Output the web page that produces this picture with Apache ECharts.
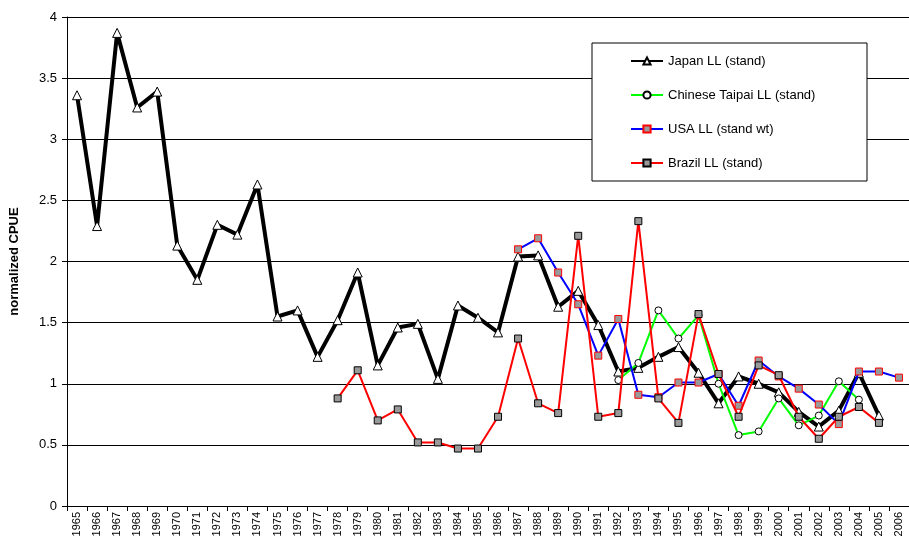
<!DOCTYPE html>
<html>
<head>
<meta charset="utf-8">
<script src="https://cdn.jsdelivr.net/npm/echarts@6/dist/echarts.min.js"></script>
<style>
html,body{margin:0;padding:0;background:#fff;}
#chart{width:909px;height:542px;}
</style>
</head>
<body>
<div id="chart"></div>
<script>
var years = ['1965','1966','1967','1968','1969','1970','1971','1972','1973','1974','1975','1976','1977','1978','1979','1980','1981','1982','1983','1984','1985','1986','1987','1988','1989','1990','1991','1992','1993','1994','1995','1996','1997','1998','1999','2000','2001','2002','2003','2004','2005','2006'];

var japan = [3.36,2.29,3.87,3.26,3.39,2.13,1.85,2.30,2.22,2.63,1.55,1.60,1.22,1.52,1.91,1.15,1.46,1.49,1.04,1.64,1.54,1.42,2.04,2.05,1.63,1.76,1.48,1.10,1.13,1.22,1.30,1.09,0.84,1.06,1.00,0.93,0.77,0.65,0.78,1.09,0.74,null];

var taipei = [null,null,null,null,null,null,null,null,null,null,null,null,null,null,null,null,null,null,null,null,null,null,null,null,null,null,null,1.03,1.17,1.60,1.37,1.56,1.00,0.58,0.61,0.88,0.66,0.74,1.02,0.87,null,null];

var usa = [null,null,null,null,null,null,null,null,null,null,null,null,null,null,null,null,null,null,null,null,null,null,2.10,2.19,1.91,1.65,1.23,1.53,0.91,0.89,1.01,1.01,1.08,0.82,1.19,1.06,0.96,0.83,0.67,1.10,1.10,1.05];

var brazil = [null,null,null,null,null,null,null,null,null,null,null,null,null,0.88,1.11,0.70,0.79,0.52,0.52,0.47,0.47,0.73,1.37,0.84,0.76,2.21,0.73,0.76,2.33,0.88,0.68,1.57,1.08,0.73,1.15,1.07,0.73,0.55,0.73,0.81,0.68,null];

var seriesNames = ['Japan LL (stand)','Chinese Taipai LL (stand)','USA LL (stand wt)','Brazil LL (stand)'];
var yTicks = {min:0, max:4, interval:0.5};

var font = 'Arial, "Liberation Sans", sans-serif';
var chart = echarts.init(document.getElementById('chart'), null, {renderer:'canvas'});
chart.setOption({
  animation:false,
  backgroundColor:'#fff',
  grid:{left:64, top:17, width:850, bottom:36, containLabel:false},
  legend:{
    left:592, top:43, orient:'vertical',
    backgroundColor:'#fff', borderColor:'#000', borderWidth:1,
    padding:[11,35,11,38],
    itemGap:20, itemWidth:32, itemHeight:9,
    textStyle:{fontFamily:font, fontSize:13, color:'#000', lineHeight:14, width:164},
    data:seriesNames
  },
  xAxis:{
    type:'category', data:years, boundaryGap:true,
    axisLine:{lineStyle:{color:'#000', width:1}},
    axisTick:{show:true, interval:0, length:5, lineStyle:{color:'#000'}},
    axisLabel:{interval:0, rotate:90, fontFamily:font, fontSize:11, color:'#000', margin:6},
    splitLine:{show:false}
  },
  yAxis:{
    type:'value', min:yTicks.min, max:yTicks.max, interval:yTicks.interval,
    name:'normalized CPUE', nameLocation:'middle', nameRotate:90, nameGap:46,
    nameTextStyle:{fontFamily:font, fontSize:13, fontWeight:'bold', color:'#000'},
    axisLine:{show:true, lineStyle:{color:'#000', width:1}},
    axisTick:{show:true, length:5, lineStyle:{color:'#000'}},
    axisLabel:{fontFamily:font, fontSize:13, color:'#000', margin:10},
    splitLine:{show:true, lineStyle:{color:'#000', width:1}}
  },
  series:[
    {name:seriesNames[0], type:'line', data:japan, symbol:'triangle', symbolSize:9, showAllSymbol:true,
     lineStyle:{color:'#000', width:4}, itemStyle:{color:'#fff', borderColor:'#000', borderWidth:1}, z:2},
    {name:seriesNames[1], type:'line', data:taipei, symbol:'circle', symbolSize:7, showAllSymbol:true,
     lineStyle:{color:'#00ff00', width:2}, itemStyle:{color:'#fff', borderColor:'#000', borderWidth:1}, z:3},
    {name:seriesNames[2], type:'line', data:usa, symbol:'rect', symbolSize:7, showAllSymbol:true,
     lineStyle:{color:'#0000ff', width:2}, itemStyle:{color:'#999', borderColor:'#ff0000', borderWidth:1}, z:4},
    {name:seriesNames[3], type:'line', data:brazil, symbol:'rect', symbolSize:7, showAllSymbol:true,
     lineStyle:{color:'#ff0000', width:2}, itemStyle:{color:'#999', borderColor:'#000', borderWidth:1}, z:5}
  ]
});
</script>
</body>
</html>
